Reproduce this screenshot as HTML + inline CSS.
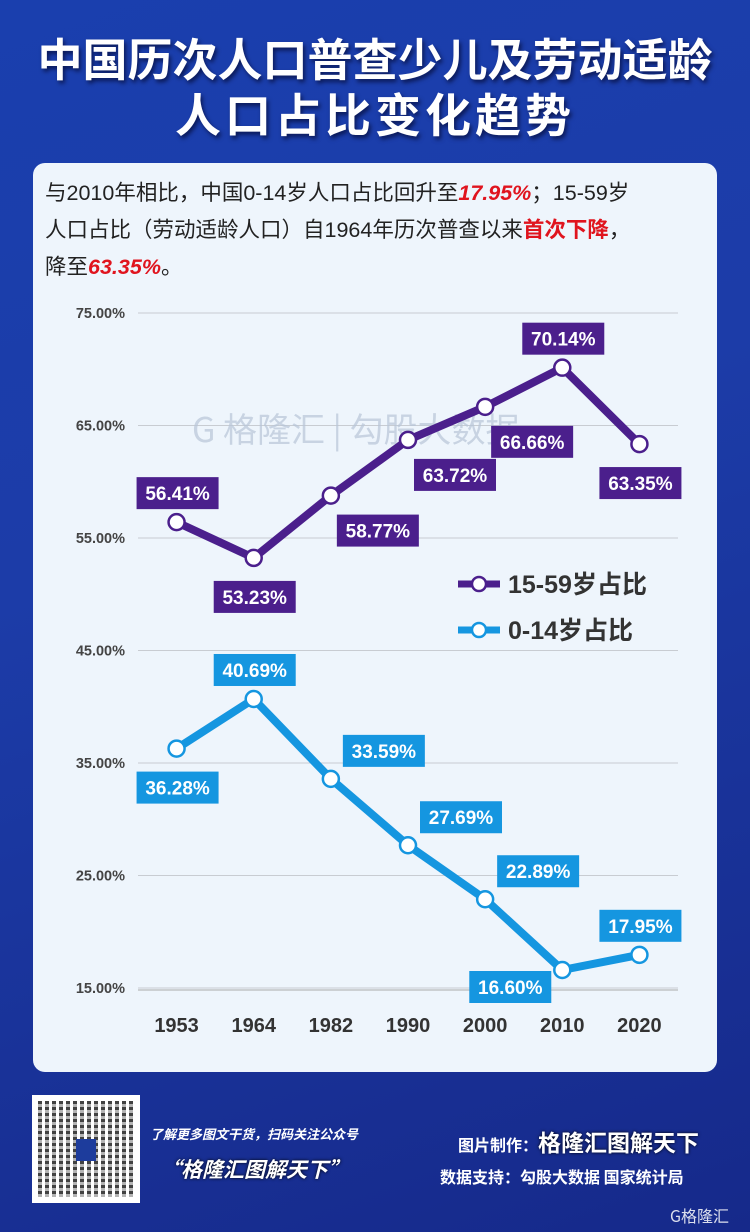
<!DOCTYPE html>
<html><head><meta charset="utf-8">
<style>
body{margin:0;width:750px;height:1232px;overflow:hidden;font-family:"Liberation Sans","Noto Sans CJK SC",sans-serif;}
#bg{position:absolute;left:0;top:0;width:750px;height:1232px;background:linear-gradient(160deg,#1a3fae 0%,#1c3ca8 40%,#16298a 100%);}
.title{position:absolute;left:0;width:750px;text-align:center;color:#fff;font-weight:bold;font-family:"Noto Sans CJK SC",sans-serif;text-shadow:2px 3px 4px rgba(0,0,30,.6);}
#card{position:absolute;left:33px;top:163px;width:684px;height:909px;background:#eef5fc;border-radius:12px;}
.lead{position:absolute;left:45px;font-size:21.5px;color:#222;font-family:"Liberation Sans","Noto Sans CJK SC",sans-serif;white-space:nowrap;}
.red{color:#e0141e;font-style:italic;font-weight:bold;}
.redn{color:#e0141e;font-weight:bold;}
.ft{position:absolute;color:#fff;white-space:nowrap;font-family:"Noto Sans CJK SC",sans-serif;}
</style></head><body>
<div id="bg"></div>
<div class="title" style="top:28px;font-size:45px;line-height:58px;">中国历次人口普查少儿及劳动适龄</div>
<div class="title" style="top:84px;font-size:46px;line-height:58px;letter-spacing:4px;">人口占比变化趋势</div>
<div id="card"></div>
<div class="lead" style="top:176px;">与2010年相比，中国0-14岁人口占比回升至<span class="red">17.95%</span>；15-59岁</div>
<div class="lead" style="top:213px;">人口占比（劳动适龄人口）自1964年历次普查以来<span class="redn">首次下降</span>，</div>
<div class="lead" style="top:250px;">降至<span class="red">63.35%</span>。</div>
<svg id="chart" style="position:absolute;left:0;top:0" width="750" height="1232"></svg>
<div style="position:absolute;left:32px;top:1095px;width:108px;height:108px;background:#fff;">
<div style="position:absolute;left:6px;top:6px;width:96px;height:96px;background:repeating-linear-gradient(0deg,rgba(255,255,255,.6) 0 3px,transparent 3px 6px),repeating-linear-gradient(90deg,#222 0 4px,#fff 4px 7px);opacity:.85;"></div>
<div style="position:absolute;left:44px;top:44px;width:20px;height:22px;background:#1d3c9c;"></div></div>
<div class="ft" style="left:150px;top:1124px;font-size:13px;font-style:italic;font-weight:bold;">了解更多图文干货，扫码关注公众号</div>
<div class="ft" style="left:160px;top:1154px;font-size:21px;font-style:italic;font-weight:bold;color:#fff;text-shadow:0 0 3px #000;">“格隆汇图解天下”</div>
<div class="ft" style="left:458px;top:1124px;font-size:16px;font-weight:bold;">图片制作：<span style="font-size:23px;text-shadow:0 0 3px #000;">格隆汇图解天下</span></div>
<div class="ft" style="left:440px;top:1164px;font-size:16px;font-weight:bold;">数据支持：勾股大数据 国家统计局</div>
<div class="ft" style="left:670px;top:1203px;font-size:16px;opacity:.85;">G格隆汇</div>
<script>
const years=["1953","1964","1982","1990","2000","2010","2020"];
const work=[56.41,53.23,58.77,63.72,66.66,70.14,63.35];
const kids=[36.28,40.69,33.59,27.69,22.89,16.60,17.95];
const yTicks=[15,25,35,45,55,65,75];
const workLabelPos=["up","down","rdown","rdown","rdown","up","down"];
const kidsLabelPos=["down","up","rup","rup","rup","ldown","up"];
const svg=document.getElementById('chart');
const NS="http://www.w3.org/2000/svg";
const x0=138,x1=678,yBase=988,pxPer=11.25;
const xs=i=>x0+(x1-x0)/years.length*(i+0.5);
const ys=v=>yBase-(v-15)*pxPer;
function mk(t,a,p){const e=document.createElementNS(NS,t);for(const k in a)e.setAttribute(k,a[k]);(p||svg).appendChild(e);return e;}
yTicks.forEach(v=>{
 const l=mk('line',{x1:x0,x2:x1,y1:ys(v),y2:ys(v),stroke:'#c8ccd2','stroke-width':1});
 
 
 const t=mk('text',{x:125,y:ys(v)+5,'text-anchor':'end','font-size':14.5,'font-weight':'bold',fill:'#444','font-family':'Liberation Sans,sans-serif'});
 t.textContent=v.toFixed(2)+'%';
 
 
});
const ax=mk('line',{x1:x0,x2:x1,y1:yBase+2,y2:yBase+2,stroke:'#aaa'});


years.forEach((y,i)=>{
 const t=mk('text',{x:xs(i),y:1032,'text-anchor':'middle','font-size':20,'font-weight':'bold',fill:'#333','font-family':'Liberation Sans,sans-serif'});
 t.textContent=y;
 
 
});
const wm=mk('text',{x:192,y:442,'font-size':34,fill:'#b8c6d8','font-family':'Noto Sans CJK SC,sans-serif',opacity:.7});
wm.textContent='G 格隆汇 | 勾股大数据';


function series(vals,color,pos,name){
 const pts=vals.map((v,i)=>xs(i)+','+ys(v)).join(' ');
 const pl=mk('polyline',{points:pts,fill:'none',stroke:color,'stroke-width':8,'stroke-linejoin':'round'});
 
 
 vals.forEach((v,i)=>{
  const c=mk('circle',{cx:xs(i),cy:ys(v),r:8,fill:'#fff',stroke:color,'stroke-width':2.5});
  
  
 });
 vals.forEach((v,i)=>{
  let bx=xs(i)-40,by;
  if(pos[i]=='up')by=ys(v)-45;
  else if(pos[i]=='down')by=ys(v)+23;
  else if(pos[i]=='rup'){bx=xs(i)+12;by=ys(v)-44;}
  else if(pos[i]=='ldown'){bx=xs(i)-93;by=ys(v)+1;}
  else {bx=xs(i)+6;by=ys(v)+19;}
  const r=mk('rect',{x:bx,y:by,width:82,height:32,fill:color});
  
  
  const t=mk('text',{x:bx+41,y:by+23,'text-anchor':'middle','font-size':19,'font-weight':'bold',fill:'#fff','font-family':'Liberation Sans,sans-serif'});
  t.textContent=v.toFixed(2)+'%';
  
  
 });
}
series(work,'#4b1f8c',workLabelPos,'working-age');
series(kids,'#1596e0',kidsLabelPos,'children');
[['#4b1f8c','15-59岁占比',584],['#1596e0','0-14岁占比',630]].forEach(([c,txt,y])=>{
 const l=mk('line',{x1:458,x2:500,y1:y,y2:y,stroke:c,'stroke-width':7});
 
 
 const ci=mk('circle',{cx:479,cy:y,r:7,fill:'#fff',stroke:c,'stroke-width':2.5});
 
 
 const t=mk('text',{x:508,y:y+9,'font-size':25,'font-weight':'bold',fill:'#333','font-family':'Liberation Sans,Noto Sans CJK SC,sans-serif'});
 t.textContent=txt;
 
 
});
</script>
</body></html>
